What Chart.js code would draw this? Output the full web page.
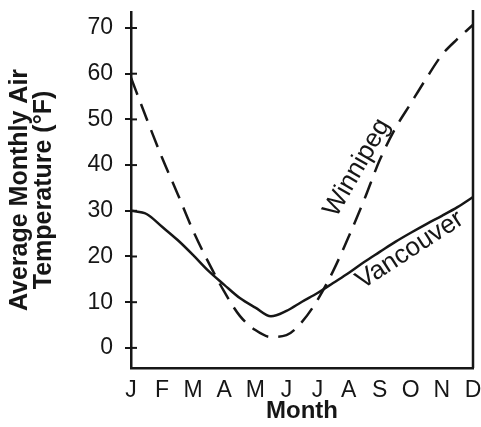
<!DOCTYPE html>
<html>
<head>
<meta charset="utf-8">
<script src="https://cdn.jsdelivr.net/npm/chart.js@4/dist/chart.umd.min.js"></script>
<style>
  html, body { margin: 0; padding: 0; background: #fff; }
  #wrap { width: 481px; height: 427px; }
</style>
</head>
<body>
<div id="wrap"><canvas id="temp-chart"></canvas></div>
<script>
// month letters on the x axis
const monthLabels = ["J", "F", "M", "A", "M", "J", "J", "A", "S", "O", "N", "D"];
const monthPos = [0, 0.5, 1, 1.5, 2, 2.5, 3, 3.5, 4, 4.5, 5, 5.5, 6, 6.5, 7, 7.5, 8, 8.5, 9, 9.5, 10, 10.5, 11];
const vancouverTemps = [30.0, 29.3, 26.5, 23.6, 20.3, 16.8, 13.8, 10.9, 8.8, 6.9, 8.1, 10.1, 12.0, 14.2, 16.4, 18.8, 21.0, 23.2, 25.2, 27.1, 28.9, 30.8, 33.0];
const winnipegTemps = [59.1, 50.2, 41.6, 33.7, 25.6, 18.6, 12.3, 7.0, 3.9, 2.4, 2.8, 5.7, 10.5, 16.8, 24.3, 32.4, 41.1, 48.0, 53.5, 59.0, 64.1, 67.6, 70.7];
const yTicks = [0, 10, 20, 30, 40, 50, 60, 70];

const FONT = "'Liberation Sans', Arial, Helvetica, sans-serif";
const INK = "#161616";

function toPoints(values) {
  return monthPos.map((m, i) => ({ x: m, y: values[i] }));
}

// right frame line, inner half of y ticks, and the curve names
const framePlugin = {
  id: "frame",
  afterDraw(chart) {
    const ctx = chart.ctx;
    const area = chart.chartArea;
    const ys = chart.scales.y;
    const xs = chart.scales.x;
    ctx.save();
    ctx.strokeStyle = INK;
    ctx.lineWidth = 2.5;
    ctx.beginPath();
    ctx.moveTo(area.right, area.top - 2);
    ctx.lineTo(area.right, area.bottom);
    ctx.stroke();

    ctx.lineWidth = 2;
    yTicks.forEach((v) => {
      const py = ys.getPixelForValue(v);
      ctx.beginPath();
      ctx.moveTo(area.left, py);
      ctx.lineTo(area.left + 6, py);
      ctx.stroke();
    });

    ctx.fillStyle = INK;
    ctx.font = "26px " + FONT;
    ctx.textAlign = "center";
    ctx.textBaseline = "middle";
    // Winnipeg along the dashed line
    ctx.save();
    ctx.translate(xs.getPixelForValue(7.27), ys.getPixelForValue(39.4));
    ctx.rotate(-60 * Math.PI / 180);
    ctx.fillText("Winnipeg", 0, 0);
    ctx.restore();
    // Vancouver under the solid line
    ctx.save();
    ctx.translate(xs.getPixelForValue(8.97), ys.getPixelForValue(21.4));
    ctx.rotate(-33 * Math.PI / 180);
    ctx.fillText("Vancouver", 0, 0);
    ctx.restore();
    ctx.restore();
  },
};

new Chart(document.getElementById("temp-chart"), {
  type: "line",
  data: {
    datasets: [
      {
        label: "Vancouver",
        data: toPoints(vancouverTemps),
        borderColor: INK,
        borderWidth: 2.5,
        pointRadius: 0,
        cubicInterpolationMode: "monotone",
        fill: false,
      },
      {
        label: "Winnipeg",
        data: toPoints(winnipegTemps),
        borderColor: INK,
        borderWidth: 2.5,
        borderDash: [18, 10],
        pointRadius: 0,
        cubicInterpolationMode: "monotone",
        fill: false,
      },
    ],
  },
  options: {
    responsive: true,
    maintainAspectRatio: false,
    animation: false,
    events: [],
    layout: { padding: { top: 12, right: 8, left: 0, bottom: 0 } },
    plugins: {
      legend: { display: false },
      tooltip: { enabled: false },
    },
    scales: {
      x: {
        type: "linear",
        min: 0,
        max: 11,
        afterFit: (s) => {
          s.height = 59;
          s.paddingLeft = 0;
          s.paddingRight = 0;
        },
        afterBuildTicks: (s) => {
          s.ticks = monthLabels.map((m, i) => ({ value: i }));
        },
        ticks: {
          autoSkip: false,
          maxRotation: 0,
          padding: 9,
          color: INK,
          font: { family: FONT, size: 23 },
          callback: (v) => monthLabels[v],
        },
        grid: { display: false, drawTicks: false },
        border: { display: true, color: INK, width: 2.5 },
        title: {
          display: true,
          text: "Month",
          color: INK,
          font: { family: FONT, size: 24, weight: "bold", lineHeight: 1.0 },
          padding: { top: 0, bottom: 4 },
        },
      },
      y: {
        min: -4.4,
        max: 73.5,
        afterFit: (s) => {
          s.width = 131;
          s.paddingTop = 0;
          s.paddingBottom = 0;
        },
        afterBuildTicks: (s) => {
          s.ticks = yTicks.map((v) => ({ value: v }));
        },
        ticks: {
          padding: 12,
          color: INK,
          font: { family: FONT, size: 23 },
        },
        grid: {
          drawOnChartArea: false,
          drawTicks: true,
          tickLength: 6,
          color: INK,
          lineWidth: 2,
        },
        border: { display: true, color: INK, width: 2.5 },
        title: {
          display: true,
          text: ["Average Monthly Air", "Temperature (\u00B0F)"],
          color: INK,
          font: { family: FONT, size: 25, weight: "bold", lineHeight: 0.96 },
          padding: { top: 8, bottom: 0 },
        },
      },
    },
  },
  plugins: [framePlugin],
});
</script>
</body>
</html>
